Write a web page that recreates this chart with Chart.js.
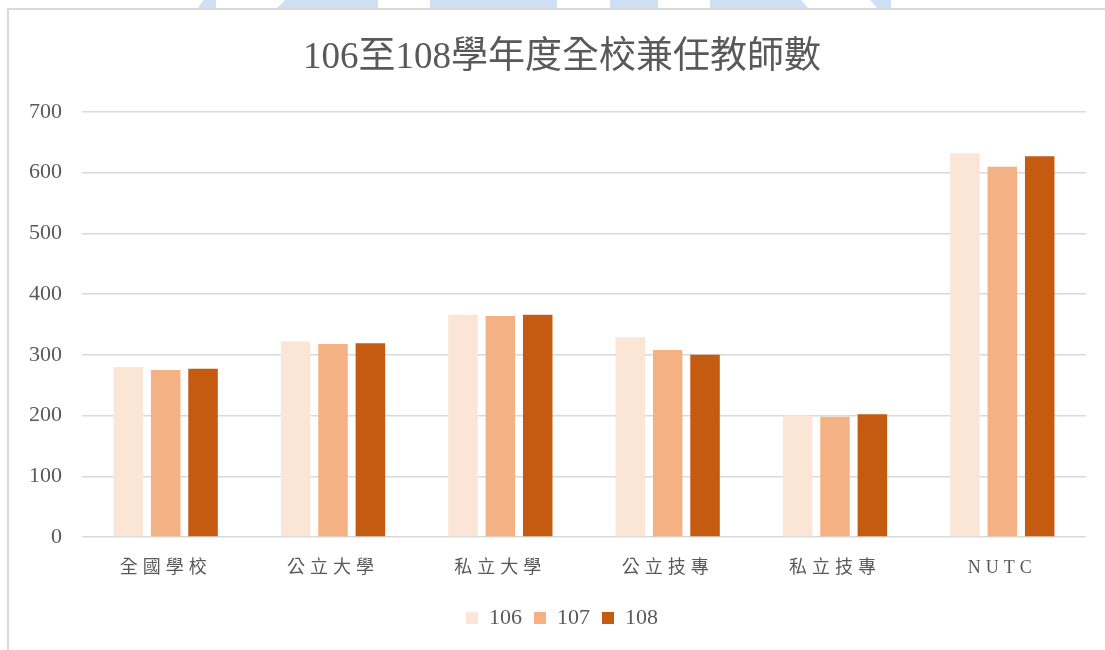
<!DOCTYPE html>
<html>
<head>
<meta charset="utf-8">
<script src="https://cdn.jsdelivr.net/npm/chart.js@4/dist/chart.umd.min.js"></script>
<style>
    html, body { margin: 0; padding: 0; background: #fff; }
    #wrap { position: relative; width: 1105px; height: 650px; overflow: hidden; }
    .deco { position: absolute; top: 0; height: 8px; background: #cfe0f5; }
    #frame { position: absolute; left: 7px; top: 8px; width: 1200px; height: 700px;
             border-left: 2px solid #d9d9d9; border-top: 2px solid #d9d9d9; }
    canvas { position: absolute; left: 0; top: 0; }
</style>
</head>
<body>
<div id="wrap">
    <!-- blue strips peeking above the frame -->
    <div class="deco" style="left:198px;width:18px;clip-path:polygon(0 100%,30% 0,100% 0,100% 100%)"></div>
    <div class="deco" style="left:277px;width:101px;clip-path:polygon(0 100%,8% 0,100% 0,100% 100%)"></div>
    <div class="deco" style="left:430px;width:127px"></div>
    <div class="deco" style="left:610px;width:48px"></div>
    <div class="deco" style="left:710px;width:98px;clip-path:polygon(0 0,93% 0,100% 100%,0 100%)"></div>
    <div class="deco" style="left:870px;width:21px;clip-path:polygon(0 0,100% 0,100% 100%,35% 100%)"></div>
    <div id="frame"></div>
    <canvas id="chart" width="1105" height="650"></canvas>
</div>
<script>
const CATEGORIES = ["全國學校", "公立大學", "私立大學", "公立技專", "私立技專", "NUTC"];
const YEARS      = ["106", "107", "108"];
const Y106 = [280, 322, 366, 329, 200, 632];
const Y107 = [275, 318, 364, 308, 198, 610];
const Y108 = [277, 319, 366, 300, 202, 627];
const COLORS = ["#fbe5d6", "#f4b183", "#c55a11"];

const SERIF = "'Liberation Serif', 'Noto Sans CJK TC', serif";
const TEXT  = "#595959";

// x labels in the original are drawn with wide letter spacing,
// and title/legend are centred on the framed area rather than the canvas
const tweaks = {
    id: "tweaks",
    afterLayout(chart) {
        if (chart.titleBlock) chart.titleBlock.left = 38;
        if (chart.legend) chart.legend.left = 38;
        const sx = chart.scales.x;
        if (sx._spaced) return;
        const orig = sx.drawLabels;
        sx.drawLabels = function (area) {
            const ctx = this.ctx;
            ctx.save();
            ctx.letterSpacing = "5px";
            orig.call(this, area);
            ctx.restore();
        };
        sx._spaced = true;
    }
};

new Chart(document.getElementById("chart"), {
    type: "bar",
    data: {
        labels: CATEGORIES,
        datasets: [
            { label: YEARS[0], data: Y106, backgroundColor: COLORS[0] },
            { label: YEARS[1], data: Y107, backgroundColor: COLORS[1] },
            { label: YEARS[2], data: Y108, backgroundColor: COLORS[2] },
        ]
    },
    options: {
        responsive: false,
        animation: false,
        layout: { padding: { left: 0, right: 19, top: 0, bottom: 11 } },
        datasets: { bar: { categoryPercentage: 0.67, barPercentage: 0.79, borderWidth: 0 } },
        plugins: {
            title: {
                display: true,
                text: "106至108學年度全校兼任教師數",
                color: TEXT,
                font: { family: SERIF, size: 37, weight: "normal" },
                padding: { top: 36.5, bottom: 31.1 }
            },
            legend: {
                display: true, position: "bottom",
                labels: {
                    color: TEXT, boxWidth: 12, boxHeight: 12, padding: 12,
                    font: { family: SERIF, size: 22 }
                }
            },
            tooltip: { enabled: false }
        },
        scales: {
            x: {
                grid: { display: false },
                border: { display: false },
                ticks: { color: TEXT, padding: 12, font: { family: SERIF, size: 18 } },
                afterFit: s => { s.height = 58; }
            },
            y: {
                min: 0, max: 700,
                grid: { color: "#d9d9d9", lineWidth: 1.5, drawTicks: false },
                border: { display: false },
                ticks: { stepSize: 100, color: TEXT, padding: 20, font: { family: SERIF, size: 22 } },
                afterFit: s => { s.width = 82; }
            }
        }
    },
    plugins: [tweaks]
});
</script>
</body>
</html>
